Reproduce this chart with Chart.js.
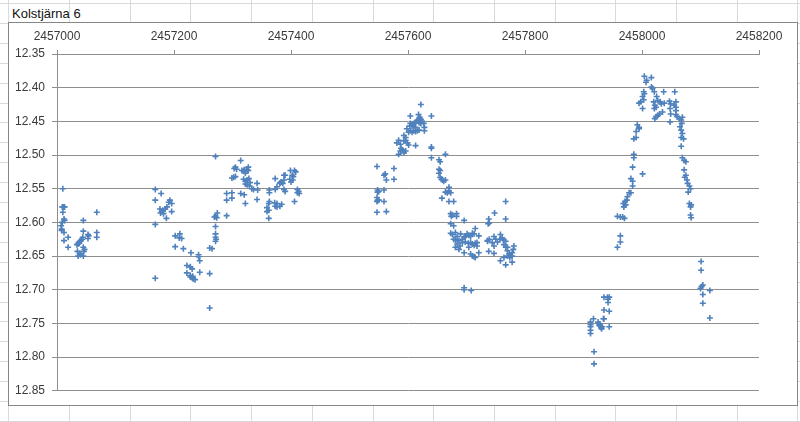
<!DOCTYPE html>
<html><head><meta charset="utf-8">
<script src="https://cdn.jsdelivr.net/npm/chart.js@4/dist/chart.umd.min.js"></script>
<style>
html,body{margin:0;padding:0;width:800px;height:422px;overflow:hidden;background:#fff;font-family:"Liberation Sans",Arial,sans-serif;}
.vl{position:absolute;top:0;width:1px;height:422px;background:#d9dadb;}
.hl{position:absolute;left:0;height:1px;width:800px;background:#d9dadb;}
#title{position:absolute;left:12px;top:6px;font-size:13px;color:#111;line-height:16px;white-space:nowrap;}
#frame{position:absolute;left:8px;top:22px;width:790px;height:384px;box-sizing:border-box;border:1px solid #868686;background:#fff;}
#wrap{position:absolute;left:0;top:0;width:788px;height:382px;}
</style></head><body>
<div id="sheet"></div>
<div id="title">Kolstjärna 6</div>
<div id="frame"><div id="wrap"><canvas id="c" width="788" height="382"></canvas></div></div>
<script>
// ---- data: [Julian Date, magnitude] ----
const season2014 = [
[2457007,12.605],[2457008,12.610],[2457009,12.600],[2457010,12.550],[2457009,12.577],[2457011,12.577],[2457013,12.577],[2457010,12.585],[2457012,12.595],[2457013,12.597],
[2457008,12.612],[2457012,12.615],[2457012,12.627],[2457019,12.622],[2457019,12.637],
[2457034,12.633],[2457036,12.632],[2457037,12.630],[2457039,12.628],[2457041,12.627],[2457043,12.625],[2457044,12.622],[2457038,12.631],[2457045,12.613],[2457045,12.597],
[2457035,12.643],[2457039,12.646],[2457036,12.650],[2457040,12.648],[2457045,12.650],[2457046,12.643],[2457047,12.640],[2457045,12.637],
[2457053,12.618],[2457053,12.624],[2457054,12.620],[2457068,12.585],[2457068,12.615],[2457068,12.622]
];
const season2015 = [
[2457168,12.551],[2457178,12.557],[2457168,12.567],[2457193,12.567],[2457196,12.572],[2457191,12.570],[2457176,12.580],[2457179,12.584],[2457181,12.582],[2457177,12.586],
[2457182,12.587],[2457185,12.580],[2457188,12.577],[2457196,12.584],[2457187,12.594],[2457168,12.603],[2457168,12.683],[2457202,12.620],[2457210,12.617],[2457213,12.624],
[2457209,12.623],[2457202,12.636],[2457216,12.639],[2457229,12.645],[2457242,12.648],[2457242,12.651],[2457244,12.657],[2457222,12.664],[2457228,12.666],[2457231,12.669],
[2457222,12.675],[2457228,12.679],[2457231,12.682],[2457233,12.684],[2457236,12.685],[2457228,12.681],[2457232,12.680],[2457244,12.674],[2457261,12.676],[2457261,12.727],
[2457261,12.638],[2457265,12.639],[2457271,12.606],[2457271,12.617],[2457271,12.622],[2457271,12.628],[2457272,12.625],[2457271,12.591],[2457273,12.593],[2457274,12.586],
[2457269,12.592],[2457271,12.502],[2457290,12.590],[2457290,12.557],[2457290,12.567],[2457299,12.556],[2457299,12.564],[2457299,12.534],[2457302,12.533],[2457305,12.532],
[2457303,12.520],[2457305,12.518],[2457307,12.521],[2457314,12.508],[2457316,12.523],[2457319,12.524],[2457320,12.522],[2457322,12.527],[2457324,12.521],[2457327,12.518],
[2457327,12.523],[2457325,12.522],[2457319,12.536],[2457322,12.539],[2457325,12.537],[2457328,12.535],[2457330,12.541],[2457329,12.546],[2457325,12.544],[2457322,12.543],
[2457314,12.557],[2457320,12.559],[2457322,12.572],[2457333,12.550],[2457336,12.551],[2457342,12.542],[2457342,12.566],[2457343,12.552],
[2457359,12.578],[2457359,12.584],[2457362,12.582],[2457362,12.594],[2457363,12.552],[2457363,12.556],[2457362,12.572],[2457363,12.569],
[2457373,12.535],[2457373,12.551],[2457376,12.547],[2457381,12.542],[2457382,12.541],[2457383,12.540],[2457388,12.530],[2457390,12.530],[2457388,12.537],[2457386,12.542],
[2457376,12.572],[2457381,12.576],[2457376,12.577],[2457384,12.573],[2457372,12.571],[2457373,12.576],[2457388,12.551],[2457390,12.554],
[2457399,12.523],[2457402,12.530],[2457404,12.532],[2457403,12.537],[2457400,12.540],[2457398,12.536],[2457406,12.523],[2457408,12.525],[2457406,12.569],
[2457411,12.551],[2457413,12.554],[2457414,12.557],[2457411,12.556]
];
const season2016 = [
[2457547,12.517],[2457561,12.528],[2457559,12.530],[2457576,12.520],[2457563,12.537],[2457576,12.536],[2457548,12.552],[2457550,12.554],[2457548,12.555],[2457559,12.552],
[2457547,12.563],[2457548,12.567],[2457547,12.569],[2457550,12.567],[2457559,12.569],[2457547,12.585],[2457563,12.584],
[2457584,12.499],[2457587,12.494],[2457590,12.492],[2457593,12.497],[2457596,12.494],[2457588,12.490],[2457581,12.482],[2457584,12.478],[2457587,12.484],[2457593,12.479],
[2457596,12.478],[2457599,12.482],[2457601,12.485],[2457593,12.471],[2457596,12.474],[2457613,12.486],[2457598,12.461],[2457604,12.464],[2457601,12.466],[2457607,12.466],
[2457610,12.464],[2457613,12.465],[2457616,12.464],[2457619,12.463],[2457604,12.453],[2457607,12.455],[2457610,12.453],[2457613,12.452],[2457616,12.449],[2457619,12.452],
[2457622,12.453],[2457619,12.447],[2457616,12.448],[2457624,12.450],[2457627,12.453],[2457607,12.457],[2457603,12.457],[2457613,12.459],[2457628,12.459],[2457628,12.464],
[2457604,12.442],[2457618,12.440],[2457620,12.444],[2457622,12.447],[2457622,12.425],[2457640,12.442],
[2457640,12.488],[2457640,12.490],[2457640,12.504],[2457653,12.507],[2457655,12.510],[2457664,12.499],[2457653,12.521],[2457655,12.523],[2457653,12.527],[2457655,12.533],
[2457657,12.536],[2457659,12.537],[2457661,12.539],[2457664,12.537],[2457670,12.548],[2457664,12.555],[2457667,12.556],[2457670,12.554],[2457673,12.556],[2457658,12.564],
[2457670,12.569],[2457678,12.569],[2457673,12.587],[2457676,12.589],[2457674,12.591],[2457683,12.587],[2457683,12.591],[2457673,12.602],[2457678,12.605],[2457696,12.597],
[2457673,12.616],[2457676,12.618],[2457681,12.615],[2457684,12.621],[2457690,12.617],[2457678,12.625],[2457681,12.626],[2457687,12.627],[2457693,12.625],[2457696,12.622],
[2457698,12.621],[2457701,12.617],[2457704,12.619],[2457707,12.621],[2457710,12.616],[2457713,12.617],[2457715,12.609],[2457684,12.632],[2457689,12.635],[2457693,12.630],
[2457698,12.629],[2457703,12.631],[2457707,12.630],[2457710,12.632],[2457713,12.634],[2457715,12.631],[2457718,12.630],[2457721,12.620],[2457681,12.637],[2457687,12.640],
[2457696,12.645],[2457704,12.637],[2457707,12.647],[2457710,12.650],[2457713,12.651],[2457715,12.652],[2457718,12.635],[2457721,12.645],
[2457696,12.697],[2457696,12.700],[2457708,12.701],
[2457738,12.595],[2457739,12.601],[2457737,12.602],[2457748,12.586],[2457767,12.569],[2457767,12.595],[2457736,12.627],[2457739,12.625],[2457747,12.621],[2457750,12.625],
[2457753,12.629],[2457747,12.635],[2457744,12.630],[2457736,12.628],[2457738,12.643],[2457747,12.646],[2457758,12.618],[2457761,12.623],[2457757,12.625],[2457763,12.626],
[2457767,12.628],[2457764,12.633],[2457770,12.637],[2457767,12.637],[2457770,12.642],[2457773,12.647],[2457774,12.652],[2457778,12.645],[2457780,12.640],[2457781,12.635],
[2457775,12.649],[2457778,12.650],[2457764,12.652],[2457770,12.650],[2457758,12.657],[2457767,12.663],[2457778,12.659]
];
const season2017 = [
[2457912,12.748],[2457912,12.752],[2457912,12.755],[2457912,12.760],[2457912,12.765],[2457917,12.743],[2457918,12.792],[2457918,12.810],[2457925,12.748],[2457927,12.751],
[2457929,12.754],[2457931,12.758],[2457932,12.755],[2457930,12.756],[2457927,12.753],[2457934,12.743],[2457935,12.743],[2457935,12.730],[2457935,12.711],[2457941,12.711],
[2457944,12.711],[2457942,12.714],[2457942,12.719],[2457944,12.732],[2457944,12.755],
[2457958,12.637],[2457963,12.629],[2457963,12.620],[2457958,12.591],[2457963,12.592],[2457967,12.592],[2457970,12.594],[2457969,12.577],[2457968,12.572],[2457972,12.574],
[2457971,12.569],[2457974,12.567],[2457975,12.562],[2457978,12.556],[2457981,12.556],[2457981,12.535],[2457984,12.539],[2457984,12.546],[2457986,12.499],[2457986,12.504],
[2457984,12.518],[2458001,12.528],[2457986,12.476],[2457990,12.474],[2457990,12.465],[2457992,12.455],[2457995,12.459],[2457995,12.461],
[2458004,12.383],[2458007,12.392],[2458008,12.389],[2458016,12.385],[2458003,12.406],[2458004,12.409],[2458001,12.413],[2458003,12.418],[2457998,12.421],[2457995,12.423],
[2458001,12.431],[2458016,12.399],[2458018,12.401],[2458021,12.406],[2458025,12.413],[2458027,12.419],[2458020,12.421],[2458022,12.426],[2458024,12.429],[2458021,12.431],
[2458031,12.421],[2458033,12.424],[2458037,12.406],[2458035,12.436],[2458030,12.439],[2458027,12.441],[2458024,12.443],[2458022,12.446],[2458038,12.423],[2458047,12.420],
[2458049,12.424],[2458048,12.431],[2458049,12.439],[2458048,12.451],[2458056,12.406],[2458058,12.421],[2458058,12.429],[2458058,12.434],[2458058,12.440],[2458060,12.443],
[2458055,12.426],[2458064,12.446],[2458067,12.448],[2458069,12.444],[2458068,12.453],[2458065,12.458],[2458067,12.463],[2458069,12.468],[2458067,12.474],[2458071,12.476],
[2458067,12.487],[2458069,12.504],[2458072,12.508],[2458075,12.510],[2458072,12.522],[2458075,12.530],[2458073,12.533],[2458077,12.537],[2458078,12.542],[2458081,12.546],
[2458079,12.555],[2458083,12.550],[2458081,12.572],[2458083,12.577],[2458084,12.574],[2458083,12.589],[2458084,12.593],
[2458101,12.658],[2458101,12.671],[2458100,12.698],[2458102,12.695],[2458104,12.693],[2458116,12.701],[2458104,12.707],[2458104,12.720],[2458116,12.742]
];
const xTicks = [2457000,2457200,2457400,2457600,2457800,2458000,2458200];
const yTicks = [12.35,12.40,12.45,12.50,12.55,12.60,12.65,12.70,12.75,12.80,12.85];
const seriesName = 'Kolstjärna 6';

// ---- spreadsheet background cells (decoration) ----
(function(){
  const sheet = document.getElementById('sheet');
  for (let k = -1; k <= 12; k++) {
    const d = document.createElement('div'); d.className = 'vl';
    d.style.left = Math.round(69 + 60.7 * k) + 'px'; sheet.appendChild(d);
  }
  for (let k = 0; k <= 21; k++) {
    const d = document.createElement('div'); d.className = 'hl';
    d.style.top = Math.round(3 + 19.9 * k) + 'px'; sheet.appendChild(d);
  }
})();

const allPoints = [...season2014, ...season2015, ...season2016, ...season2017].map(([x, y]) => ({x, y}));
const FONT = {family: '"Liberation Sans", Arial, sans-serif', size: 12};
const GRID = '#8e8e8e';

new Chart(document.getElementById('c'), {
  type: 'scatter',
  data: {datasets: [{
    label: seriesName, data: allPoints, showLine: false,
    pointStyle: 'cross', pointRadius: 3, pointBorderWidth: 1.6,
    pointBorderColor: '#4f81bd', pointBackgroundColor: '#4f81bd',
    pointHoverRadius: 3
  }]},
  options: {
    responsive: false, animation: false,
    layout: {padding: {left: 0, top: 0, right: 38, bottom: 13}},
    plugins: {legend: {display: false}, tooltip: {enabled: false}, title: {display: false}},
    scales: {
      x: {
        type: 'linear', position: 'top', min: xTicks[0], max: xTicks[xTicks.length - 1],
        afterBuildTicks: s => { s.ticks = xTicks.map(v => ({value: v})); },
        afterFit: s => { s.height = 31; },
        grid: {drawOnChartArea: false, drawTicks: true, tickLength: 4, color: GRID},
        border: {display: true, color: GRID},
        ticks: {font: FONT, color: '#3a3a3a', padding: 6, maxRotation: 0, autoSkip: false,
                callback: v => String(v)}
      },
      y: {
        type: 'linear', reverse: true, min: yTicks[0], max: yTicks[yTicks.length - 1],
        afterBuildTicks: s => { s.ticks = yTicks.map(v => ({value: v})); },
        afterFit: s => { s.width = 48; },
        grid: {color: GRID, tickLength: 5, drawTicks: true},
        border: {display: true, color: GRID},
        ticks: {font: FONT, color: '#3a3a3a', padding: 7, autoSkip: false,
                callback: v => Number(v).toFixed(2)}
      }
    }
  }
});
</script>
</body></html>
